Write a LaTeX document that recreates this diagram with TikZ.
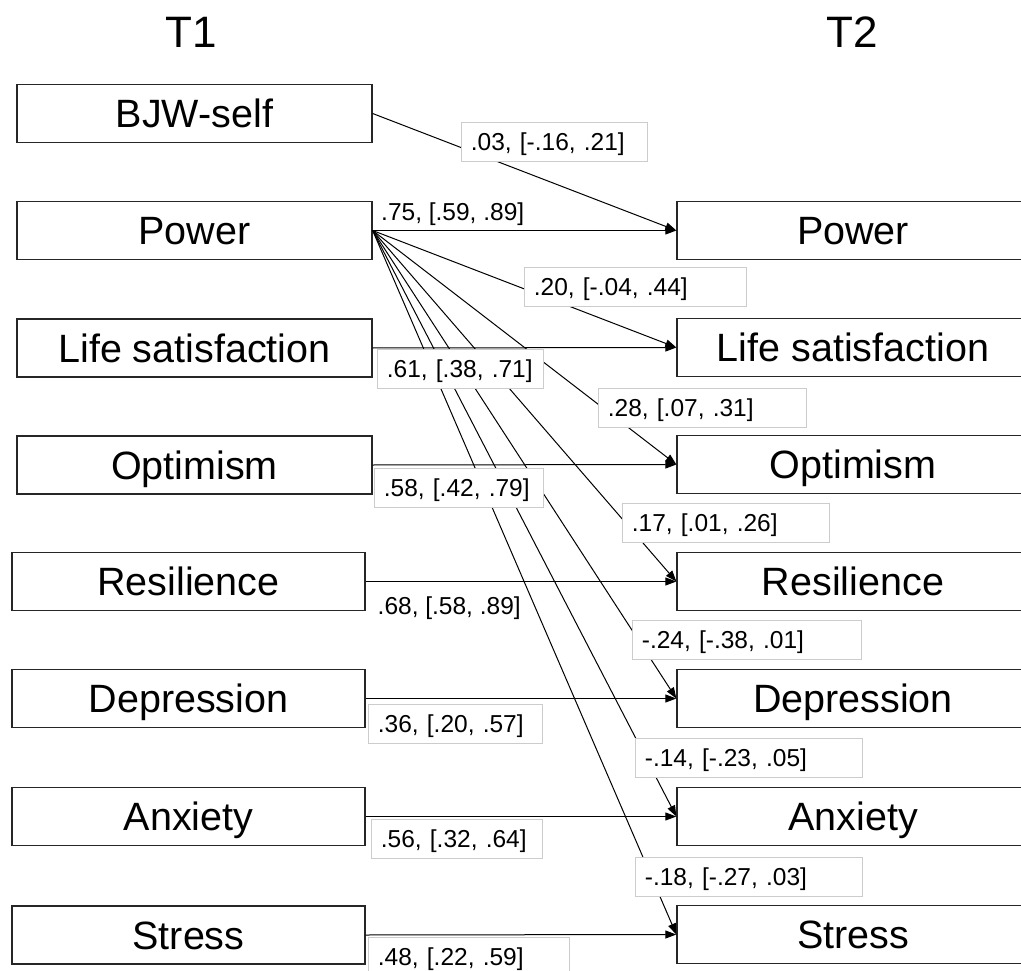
\documentclass[tikz,border=0pt]{standalone}
\usepackage{fontspec}
\setmainfont{Liberation Sans}
\usetikzlibrary{arrows.meta}
\begin{document}
\begin{tikzpicture}[x=1pt,y=-1pt,
  box/.style={draw=black!85, line width=1.3pt, fill=white, minimum height=58pt, inner sep=0pt,
    font=\fontsize{39.5}{40}\selectfont, text height=28.3pt, text depth=0pt},
  lbox/.style={box, minimum width=355pt},
  lbox2/.style={box, minimum width=353pt},
  rbox/.style={box, minimum width=352pt},
  head/.style={font=\fontsize{44}{45}\selectfont, inner sep=0pt, anchor=base},
  arr/.style={-{Triangle[length=11pt,width=8pt]}, line width=1pt, black},
  lbl/.style={draw=black!20, fill=white, line width=0.8pt, font=\fontsize{24.5}{25}\selectfont,
    inner xsep=9.5pt, inner ysep=0pt, minimum height=39pt, anchor=north west, align=left,
    text height=17.5pt, text depth=0pt},
  plbl/.style={font=\fontsize{24.5}{25}\selectfont, inner sep=0pt, anchor=west,
    text height=17.5pt, text depth=0pt}
]
\useasboundingbox (0,0) rectangle (1021,971);

\node[head] (t1) at (191,48) {T1};
\node[head] (t2) at (852,48) {T2};

% left boxes
\node[lbox] (lbjw) at (194.5,113.5) {BJW-self};
\node[lbox] (lpow) at (194.5,230.5) {Power};
\node[lbox] (llife) at (194.5,348) {Life satisfaction};
\node[lbox] (lopt) at (194.5,465) {Optimism};
\node[lbox2] (lres) at (188.5,581.5) {Resilience};
\node[lbox2] (ldep) at (188.5,698.5) {Depression};
\node[lbox2] (lanx) at (188.5,816.5) {Anxiety};
\node[lbox2] (lstr) at (188.5,935) {Stress};

% right boxes
\node[rbox] (rpow) at (853,230.5) {Power};
\node[rbox] (rlife) at (853,347.5) {Life satisfaction};
\node[rbox] (ropt) at (853,464.5) {Optimism};
\node[rbox] (rres) at (853,581.5) {Resilience};
\node[rbox] (rdep) at (853,698.5) {Depression};
\node[rbox] (ranx) at (853,816.5) {Anxiety};
\node[rbox] (rstr) at (853,934.5) {Stress};

% arrows
\draw[arr] (lbjw.east) -- (rpow.west);
\draw[arr] (lpow.east) -- (rpow.west);
\draw[arr] (lpow.east) -- (rlife.west);
\draw[arr] (lpow.east) -- (ropt.west);
\draw[arr] (lpow.east) -- (rres.west);
\draw[arr] (lpow.east) -- (rdep.west);
\draw[arr] (lpow.east) -- (ranx.west);
\draw[arr] (lpow.east) -- (rstr.west);
\draw[arr] (llife.east) -- (rlife.west);
\draw[arr] (lopt.east) -- (ropt.west);
\draw[arr] (lres.east) -- (rres.west);
\draw[arr] (ldep.east) -- (rdep.west);
\draw[arr] (lanx.east) -- (ranx.west);
\draw[arr] (lstr.east) -- (rstr.west);

% labels
\node[lbl, text width=167pt] (c1) at (461,122) {.03, [-.16, .21]};
\node[plbl] (c2) at (381,212) {.75, [.59, .89]};
\node[lbl, text width=203pt] (c3) at (524,267) {.20, [-.04, .44]};
\node[lbl, text width=147pt] (c4) at (377,349) {.61, [.38, .71]};
\node[lbl, text width=189pt] (c5) at (598,388) {.28, [.07, .31]};
\node[lbl, text width=150pt] (c6) at (374,468) {.58, [.42, .79]};
\node[lbl, text width=188pt] (c7) at (622,503) {.17, [.01, .26]};
\node[plbl] (c8) at (377.5,605.5) {.68, [.58, .89]};
\node[lbl, text width=210pt] (c9) at (632,619.5) {-.24, [-.38, .01]};
\node[lbl, text width=155pt] (c10) at (368,704) {.36, [.20, .57]};
\node[lbl, text width=208pt] (c11) at (635,738) {-.14, [-.23, .05]};
\node[lbl, text width=152pt] (c12) at (371,819) {.56, [.32, .64]};
\node[lbl, text width=208pt] (c13) at (635,857) {-.18, [-.27, .03]};
\node[lbl, text width=182pt] (c14) at (368,937) {.48, [.22, .59]};
\end{tikzpicture}
\end{document}
